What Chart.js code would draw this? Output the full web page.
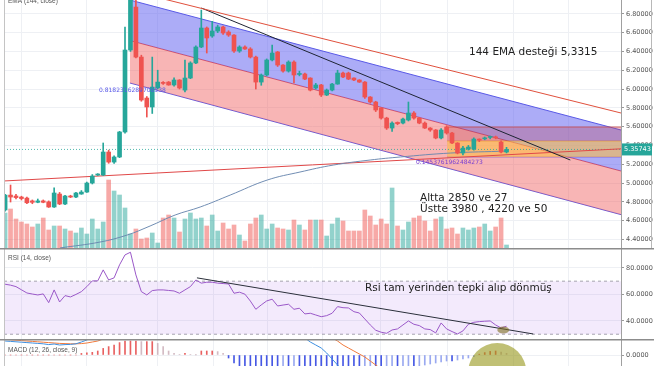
<!DOCTYPE html>
<html>
<head>
<meta charset="utf-8">
<script src="https://cdn.jsdelivr.net/npm/chart.js@4.4.0/dist/chart.umd.min.js"></script>
<style>
  body { margin: 0; background: #fff; overflow: hidden; }
  #wrap { position: relative; width: 654px; height: 366px; }
  canvas { position: absolute; left: 0; }
</style>
</head>
<body>
<div id="wrap">
  <canvas id="main" width="654" height="248" style="top:0"></canvas>
  <canvas id="rsi" width="654" height="91" style="top:248px"></canvas>
  <canvas id="macd" width="654" height="27" style="top:339px"></canvas>
</div>
<script>
// candles (bar index 0..92)
const opens = [4.713,4.872,4.862,4.851,4.840,4.810,4.795,4.810,4.800,4.745,4.883,4.777,4.862,4.851,4.883,4.904,5.000,5.085,5.085,5.330,
  5.223,5.277,5.543,6.415,6.872,6.340,5.904,5.809,6.011,6.070,6.074,6.043,6.096,5.989,6.117,6.277,6.447,6.649,6.564,6.617,
  6.660,6.606,6.574,6.404,6.447,6.426,6.340,6.074,6.149,6.309,6.394,6.255,6.191,6.287,6.155,6.160,6.117,6.011,6.043,5.936,
  5.989,6.053,6.170,6.170,6.117,6.096,6.074,5.915,5.862,5.798,5.691,5.585,5.645,5.638,5.670,5.745,5.691,5.638,5.585,5.564,
  5.479,5.596,5.532,5.426,5.319,5.362,5.362,5.465,5.470,5.485,5.490,5.436,5.330];
const highs = [4.88,4.979,4.88,4.86,4.85,4.82,4.83,4.82,4.81,4.95,4.90,4.87,4.87,4.90,4.92,5.01,5.09,5.10,5.426,5.35,
  5.29,5.55,6.66,7.20,7.00,6.36,5.92,6.34,6.20,6.08,6.08,6.12,6.10,6.309,6.29,6.46,6.84,6.66,6.72,6.68,
  6.67,6.62,6.58,6.46,6.46,6.44,6.35,6.16,6.32,6.468,6.40,6.26,6.30,6.30,6.19,6.17,6.12,6.06,6.05,6.00,
  6.06,6.20,6.18,6.18,6.12,6.10,6.08,5.92,5.87,5.80,5.70,5.65,5.65,5.69,5.862,5.76,5.70,5.65,5.59,5.57,
  5.58,5.61,5.54,5.43,5.39,5.40,5.48,5.47,5.49,5.50,5.50,5.45,5.38];
const lows = [4.70,4.798,4.83,4.82,4.78,4.78,4.79,4.79,4.74,4.74,4.77,4.77,4.845,4.845,4.88,4.90,4.99,5.08,5.08,5.21,
  5.21,5.27,5.53,6.40,6.33,5.87,5.702,5.74,6.00,6.05,6.04,6.03,6.00,5.97,6.11,6.27,6.44,6.383,6.55,6.60,
  6.58,6.56,6.39,6.39,6.42,6.33,6.00,6.04,6.14,6.30,6.24,6.18,6.18,6.064,6.14,6.10,5.98,6.00,5.92,5.93,
  5.98,6.05,6.12,6.10,6.09,6.07,5.90,5.85,5.76,5.68,5.57,5.55,5.62,5.63,5.66,5.68,5.63,5.58,5.55,5.47,
  5.47,5.52,5.42,5.31,5.30,5.35,5.35,5.44,5.46,5.47,5.47,5.32,5.32];
const closes = [4.872,4.851,4.845,4.835,4.790,4.795,4.810,4.795,4.745,4.894,4.777,4.862,4.851,4.894,4.904,5.000,5.074,5.096,5.330,5.223,
  5.277,5.543,6.415,7.05,6.340,5.883,5.809,6.021,6.074,6.060,6.043,6.096,6.011,6.117,6.277,6.447,6.649,6.543,6.617,6.660,
  6.596,6.574,6.404,6.447,6.426,6.340,6.074,6.149,6.309,6.383,6.255,6.191,6.287,6.149,6.165,6.106,5.989,6.043,5.936,5.989,
  6.053,6.170,6.128,6.106,6.096,6.074,5.915,5.862,5.777,5.691,5.585,5.638,5.632,5.681,5.745,5.691,5.638,5.585,5.564,5.479,
  5.564,5.532,5.426,5.319,5.372,5.383,5.468,5.457,5.480,5.490,5.480,5.330,5.35743];
const volumes = [3500,3900,2900,2600,2400,2100,2400,3000,1800,2200,2200,1900,1700,1500,2000,1400,2900,1900,2600,6800,
  5700,5300,4000,1400,1900,900,1000,1500,500,3000,3300,3000,1600,2900,3500,2900,3000,2200,3300,1700,
  2500,1900,2300,1300,700,2400,3000,3300,1900,2400,2000,1900,1800,2800,2300,1800,2800,2800,2800,1200,
  2400,3000,2700,1700,1700,1700,3800,3200,2300,2900,2400,6000,2200,1800,2600,3000,3200,2700,1700,2900,
  3100,1900,2000,1400,2000,1800,2000,2100,2400,1700,2100,3000,300];

// 144 EMA, sampled along the curve
const emaIdx = [10.1,17.4,22.4,26.6,31.2,35.8,41.3,48.1,54.1,60.2,67,72.5,81.7,92];
const emaVal = [4.31,4.372,4.447,4.543,4.66,4.745,4.872,5.032,5.117,5.191,5.245,5.277,5.319,5.34];

// drawings on the price pane: [bar index], [price]
const channelIdx = [22.9, 113];
const channelTop = [6.947, 5.564];
const channelMid = [6.516, 5.128];
const channelBot = [6.064, 4.664];
const redTrendIdx = [28.4, 113], redTrendVal = [6.968, 5.745];
const blackTrendIdx = [36, 103.7], blackTrendVal = [6.862, 5.245];
const flatIdx = [-0.2, 113], flatVal = [5.022, 5.364];
const fibIdx = [81.1, 113];
const fibLevels = [5.596, 5.447, 5.277];
const lastPrice = 5.35743;

// RSI (14)
const rsi = [67.7,67,65.9,63.5,61.1,60.3,59.6,60.4,53.8,63.4,54.3,59.1,58.1,60,62.1,65.9,70.2,70.2,78.5,70.9,
  72.5,82.3,89.8,91.8,74.7,62.1,59.6,62.9,63.4,63.4,63,62.6,60.9,63.4,65.9,70.9,68.5,69.2,69.2,68.5,
  68.2,67.9,60.9,61.7,60.2,55,48.8,52.1,55.1,56.4,51.3,52,52.6,48.8,49.6,45.3,45.8,44.5,43.2,44,
  45.8,50.8,50,49.8,47,46,41.5,37,33,31.5,30.7,33.2,34,37,40,37.5,36.5,34,33.5,31,
  38.5,34,32,30.2,32.5,37.5,39,39.5,39.8,40,37,34.7,36];
const rsiTrendIdx = [35.2, 96.9], rsiTrendVal = [72.5, 30.2];

// MACD (12, 26, 9)
const macdHist = [0,0,0,0,0,0,0,0,0,0,0,0,0,0,
  0.008,0.011,0.0135,0.02,0.033,0.042,0.05,0.062,0.07,0.07,0.07,0.067,0.067,0.067,0.058,0.042,0.02,0.008,0.003,0.008,0.003,0.001,0.02,0.02,0.02,0.017,0.008,
  -0.015,-0.04,-0.06,-0.07,-0.08,-0.08,-0.09,-0.09,-0.09,-0.09,-0.085,-0.085,-0.08,-0.08,-0.08,-0.08,-0.085,-0.09,-0.09,-0.09,
  -0.09,-0.09,-0.09,-0.09,-0.09,-0.085,-0.08,-0.08,-0.08,-0.075,-0.07,-0.07,-0.065,-0.06,-0.06,-0.055,-0.05,-0.045,-0.04,-0.035,
  -0.03,-0.03,-0.025,-0.02,-0.015,-0.008,0.004,0.012,0.018,0.02,0.015,0.008];
const macdLine = [0.07,0.068,0.066,0.064,0.062,0.06,0.058,0.056,0.052,0.055,0.05,0.052,0.053,0.056,
  0.065,0.075,0.09,0.11,0.14,0.16,0.19,0.23,0.3,0.37,0.4,0.41,0.41,0.41,0.4,0.38,0.36,0.34,0.33,0.33,0.33,0.34,0.36,0.36,0.36,0.355,0.345,
  0.32,0.29,0.27,0.25,0.22,0.19,0.17,0.16,0.15,0.14,0.12,0.11,0.1,0.09,0.085,0.065,0.05,0.035,0.01,-0.02,
  -0.05,-0.08,-0.1,-0.12,-0.14,-0.16,-0.19,-0.22,-0.25,-0.27,-0.28,-0.28,-0.27,-0.26,-0.25,-0.25,-0.25,-0.25,-0.24,-0.23,
  -0.22,-0.21,-0.2,-0.19,-0.18,-0.17,-0.16,-0.15,-0.14,-0.13,-0.13,-0.13];
const signalLine = [0.078,0.076,0.074,0.072,0.07,0.068,0.066,0.064,0.062,0.06,0.058,0.057,0.056,0.056,
  0.057,0.06,0.065,0.07,0.08,0.09,0.11,0.13,0.16,0.2,0.24,0.27,0.3,0.32,0.33,0.34,0.34,0.34,0.34,0.335,0.335,0.335,0.34,0.34,0.345,0.345,0.345,
  0.34,0.33,0.32,0.31,0.29,0.27,0.25,0.23,0.21,0.2,0.18,0.17,0.16,0.15,0.14,0.13,0.12,0.11,0.1,0.085,
  0.07,0.05,0.035,0.02,0.005,-0.01,-0.03,-0.05,-0.07,-0.09,-0.11,-0.13,-0.15,-0.16,-0.17,-0.18,-0.19,-0.2,-0.2,-0.21,
  -0.21,-0.21,-0.21,-0.21,-0.2,-0.2,-0.19,-0.19,-0.18,-0.17,-0.16,-0.155];

// axis ticks
const gridDays = [3.1, 15, 27.9, 38.2, 48.1, 58.2, 68.8, 81.1, 93.2, 103.3];
const priceTicks = [4.4, 4.6, 4.8, 5.0, 5.2, 5.4, 5.6, 5.8, 6.0, 6.2, 6.4, 6.6, 6.8];
const rsiTicks = [40, 60, 80];
const macdTicks = [0];

const UP = '#26a69a', DOWN = '#ef5350';
const gridColor = '#eef0f4';
const idx = opens.map((_, i) => i);
const isUp = i => closes[i] >= opens[i];
const seg = (xs, ys) => xs.map((x, k) => ({ x: x, y: ys[k] }));

function xScale() {
  return {
    type: 'linear', min: -0.2, max: 113, offset: false,
    grid: { color: gridColor, drawTicks: false, offset: false },
    border: { display: false },
    ticks: { display: false },
    afterBuildTicks: s => { s.ticks = gridDays.map(v => ({ value: v })); }
  };
}
function rightAxis(min, max, vals, digits) {
  return {
    position: 'right', min: min, max: max,
    grid: { color: gridColor, tickLength: 3, tickColor: '#999' },
    border: { color: '#a0a0a0' },
    ticks: { color: '#555', padding: 2, font: { family: 'DejaVu Sans', size: 6.5 },
             callback: v => Number(v).toFixed(digits) },
    afterBuildTicks: s => { s.ticks = vals.map(v => ({ value: v })); },
    afterFit: s => { s.width = 33; s.paddingTop = 0; s.paddingBottom = 0; }
  };
}
function line(data, color, extra) {
  return Object.assign({ type: 'line', data: data, borderColor: color, borderWidth: 1,
    pointRadius: 0, fill: false, yAxisID: 'y' }, extra || {});
}
const baseOpts = {
  responsive: false, animation: false, devicePixelRatio: 1,
  layout: { padding: { left: 4 } },
  plugins: { legend: { display: false }, tooltip: { enabled: false } }
};
function frame(ctx, h) {
  ctx.save();
  ctx.strokeStyle = '#c4c4c4';
  ctx.lineWidth = 1;
  ctx.beginPath(); ctx.moveTo(4.5, 0); ctx.lineTo(4.5, h); ctx.stroke();
  ctx.restore();
}
function label(ctx, txt, x, y, font, color) {
  ctx.font = font; ctx.fillStyle = color; ctx.textBaseline = 'middle'; ctx.textAlign = 'left';
  ctx.fillText(txt, x, y);
}

// ---------- price pane ----------
const mainDecor = {
  id: 'mainDecor',
  afterDraw(chart) {
    const ctx = chart.ctx, y = chart.scales.y;
    ctx.save();
    frame(ctx, chart.height);
    ctx.strokeStyle = '#b8b8b8';
    ctx.beginPath(); ctx.moveTo(651.5, 0); ctx.lineTo(651.5, chart.height); ctx.stroke();
    label(ctx, 'EMA (144, close)', 8, 1, '6.5px "Liberation Sans"', '#555');
    label(ctx, '0.8182316289706538', 99, 90, '6px "DejaVu Sans"', '#5858e8');
    label(ctx, '0.1453761962484273', 416, 162, '6px "DejaVu Sans"', '#7a40d0');
    label(ctx, '144 EMA desteği 5,3315', 469, 52, '10.5px "DejaVu Sans"', '#222');
    label(ctx, 'Altta 2850 ve 27', 420, 198, '10.5px "DejaVu Sans"', '#222');
    label(ctx, 'Üstte 3980 , 4220 ve 50', 420, 209, '10.5px "DejaVu Sans"', '#222');
    const py = y.getPixelForValue(lastPrice);
    ctx.fillStyle = UP;
    ctx.fillRect(622, py - 6, 30, 12);
    ctx.fillStyle = '#fff';
    ctx.font = '6.5px "DejaVu Sans"';
    ctx.textBaseline = 'middle';
    ctx.fillText(lastPrice.toFixed(5), 624, py);
    ctx.restore();
  }
};

new Chart(document.getElementById('main'), {
  type: 'bar',
  data: {
    datasets: [
      line(emaIdx.map((x, k) => ({ x: x, y: emaVal[k] })), 'rgba(105,135,175,0.95)', { tension: 0.4, order: 3 }),
      { type: 'bar', data: idx.map(i => ({ x: i, y: [lows[i], highs[i]] })), backgroundColor: idx.map(i => isUp(i) ? UP : DOWN),
        barThickness: 1, grouped: false, yAxisID: 'y', order: 2 },
      { type: 'bar', data: idx.map(i => ({ x: i, y: [opens[i], closes[i]] })), backgroundColor: idx.map(i => isUp(i) ? UP : DOWN),
        barThickness: 4, minBarLength: 1, grouped: false, yAxisID: 'y', order: 1 },
      line(seg(channelIdx, channelTop), '#5a5ae6', { fill: '+1', backgroundColor: 'rgba(90,90,240,0.5)', order: 10 }),
      line(seg(channelIdx, channelMid), '#e0505a', { fill: '+1', backgroundColor: 'rgba(240,90,90,0.45)', order: 10 }),
      line(seg(channelIdx, channelBot), '#5a5ae6', { order: 10 }),
      line(seg(fibIdx, [fibLevels[0], fibLevels[0]]), 'rgba(200,70,70,0.8)', { fill: '+1', backgroundColor: 'rgba(190,60,80,0.3)', order: 8 }),
      line(seg(fibIdx, [fibLevels[1], fibLevels[1]]), 'rgba(230,150,40,0.6)', { fill: '+1', backgroundColor: 'rgba(255,190,60,0.55)', order: 8 }),
      line(seg(fibIdx, [fibLevels[2], fibLevels[2]]), 'rgba(120,80,200,0.7)', { order: 8 }),
      line(seg(redTrendIdx, redTrendVal), '#e0503c', { order: 5 }),
      line(seg(blackTrendIdx, blackTrendVal), '#1e2433', { order: 5 }),
      line(seg(flatIdx, flatVal), '#e04848', { order: 5 }),
      line(seg(flatIdx, [lastPrice, lastPrice]), 'rgba(38,166,154,0.8)', { borderDash: [1, 2], order: 5 }),
      { type: 'bar', data: idx.map(i => ({ x: i, y: volumes[i] })), yAxisID: 'yVol',
        backgroundColor: idx.map(i => isUp(i) ? 'rgba(38,166,154,0.5)' : 'rgba(239,83,80,0.5)'),
        barThickness: 4, grouped: false, order: 20 }
    ]
  },
  options: Object.assign({}, baseOpts, {
    scales: {
      x: xScale(),
      y: rightAxis(4.309, 6.947, priceTicks, 5),
      yVol: { display: false, min: 0, max: 24800 }
    }
  }),
  plugins: [mainDecor]
});

// ---------- RSI pane ----------
const rsiDecor = {
  id: 'rsiDecor',
  afterDraw(chart) {
    const ctx = chart.ctx, xs = chart.scales.x, ys = chart.scales.y;
    ctx.save();
    frame(ctx, chart.height);
    ctx.strokeStyle = '#8c8c8c'; ctx.lineWidth = 1.5;
    ctx.beginPath(); ctx.moveTo(0, 0.75); ctx.lineTo(654, 0.75); ctx.stroke();
    label(ctx, 'RSI (14, close)', 8, 10, '6.5px "Liberation Sans"', '#555');
    label(ctx, 'Rsi tam yerinden tepki alıp dönmüş', 365, 40, '10.5px "DejaVu Sans"', '#222');
    ctx.fillStyle = 'rgba(125,110,30,0.6)';
    ctx.beginPath();
    ctx.ellipse(xs.getPixelForValue(91.4), ys.getPixelForValue(33.2), 6, 3.5, 0, 0, Math.PI * 2);
    ctx.fill();
    ctx.restore();
  }
};
new Chart(document.getElementById('rsi'), {
  type: 'line',
  data: {
    datasets: [
      line(seg(flatIdx, [70, 70]), 'rgba(130,130,140,0.7)', { borderDash: [3, 3], fill: '+1', backgroundColor: 'rgba(160,90,230,0.13)', order: 5 }),
      line(seg(flatIdx, [30, 30]), 'rgba(130,130,140,0.7)', { borderDash: [3, 3], order: 5 }),
      line(idx.map(i => ({ x: i, y: rsi[i] })), '#9a58c8', { order: 2 }),
      line(seg(rsiTrendIdx, rsiTrendVal), '#2a2f3a', { order: 1 })
    ]
  },
  options: Object.assign({}, baseOpts, {
    scales: { x: xScale(), y: rightAxis(26.4, 95, rsiTicks, 4) }
  }),
  plugins: [rsiDecor]
});

// ---------- MACD pane ----------
const macdDecor = {
  id: 'macdDecor',
  afterDraw(chart) {
    const ctx = chart.ctx, xs = chart.scales.x, ys = chart.scales.y;
    ctx.save();
    frame(ctx, chart.height);
    ctx.fillStyle = 'rgba(150,150,25,0.6)';
    ctx.beginPath();
    ctx.arc(xs.getPixelForValue(90.3), ys.getPixelForValue(-0.085), 29, 0, Math.PI * 2);
    ctx.fill();
    ctx.strokeStyle = '#8c8c8c'; ctx.lineWidth = 1.5;
    ctx.beginPath(); ctx.moveTo(0, 0.75); ctx.lineTo(654, 0.75); ctx.stroke();
    label(ctx, 'MACD (12, 26, close, 9)', 8, 11, '6.5px "Liberation Sans"', '#555');
    ctx.restore();
  }
};
new Chart(document.getElementById('macd'), {
  type: 'bar',
  data: {
    datasets: [
      line(idx.map(i => ({ x: i, y: macdLine[i] })), '#3d8fe0', { order: 1 }),
      line(idx.map(i => ({ x: i, y: signalLine[i] })), '#f07a3c', { order: 1 }),
      { type: 'bar', data: idx.map(i => ({ x: i, y: macdHist[i] })), barThickness: 1, grouped: false, yAxisID: 'y', order: 3,
        backgroundColor: idx.map(i => {
          const v = macdHist[i], p = i > 0 ? macdHist[i - 1] : 0;
          if (v >= 0) return v >= p ? 'rgba(230,80,80,0.9)' : 'rgba(200,170,180,0.8)';
          return v <= p ? 'rgba(50,70,225,0.9)' : 'rgba(120,140,235,0.75)';
        }) }
    ]
  },
  options: Object.assign({}, baseOpts, {
    scales: { x: xScale(), y: rightAxis(-0.055, 0.08, macdTicks, 4) }
  }),
  plugins: [macdDecor]
});
</script>
</body>
</html>
